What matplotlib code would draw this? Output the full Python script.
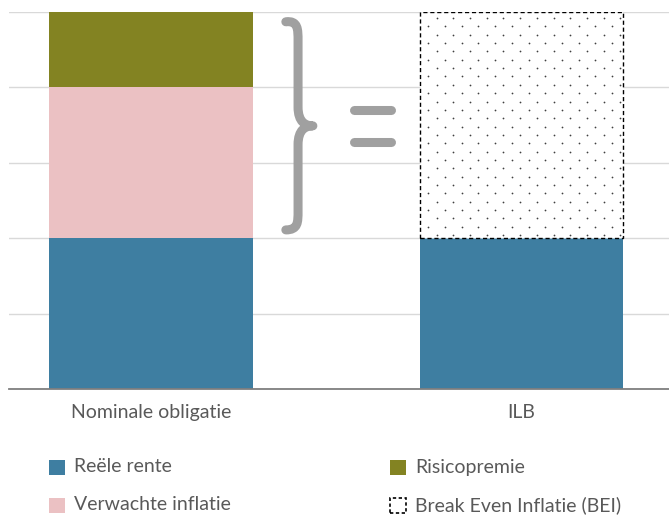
import numpy as np
import matplotlib.pyplot as plt
from matplotlib.path import Path
from matplotlib.patches import PathPatch, Rectangle
from matplotlib.transforms import IdentityTransform

plt.rcParams['font.family'] = ['Lato', 'DejaVu Sans']

# data
categories = ["Nominale obligatie", "ILB"]
reele_rente = [2, 2]
verwachte_inflatie = [2, 0]
risicopremie = [1, 0]
bei = [0, 3]

BLUE = "#3E7EA1"
PINK = "#EBC1C3"
OLIVE = "#838322"
GREY_TXT = "#595959"
BRACE = "#A0A0A0"
FS = 14

fig = plt.figure(figsize=(6.69, 5.15), dpi=100)
ax = fig.add_axes([9 / 669, 126 / 515, 660 / 669, 377 / 515])

x = list(range(len(categories)))
w = 0.55

ax.bar(x, reele_rente, width=w, color=BLUE, zorder=3)
bottom = reele_rente
ax.bar(x, verwachte_inflatie, width=w, bottom=bottom, color=PINK, zorder=3)
bottom = [a + b for a, b in zip(bottom, verwachte_inflatie)]
ax.bar(x, risicopremie, width=w, bottom=bottom, color=OLIVE, zorder=3)
bottom = [a + b for a, b in zip(bottom, risicopremie)]

ax.set_xlim(-0.383, 1.398)
ax.set_ylim(0, 5)

# break even inflation: dashed box with a dot fill on top of the real rate
bei_idx = [i for i, v in enumerate(bei) if v > 0]
bei_bars = ax.bar([x[i] for i in bei_idx], [bei[i] for i in bei_idx], width=w,
                  bottom=[reele_rente[i] for i in bei_idx],
                  facecolor="white", edgecolor="black",
                  linestyle=(0, (3, 2)), linewidth=1.0, zorder=4)
for rect in bei_bars:
    (x0, y0), (x1, y1) = ax.transData.transform(
        [(rect.get_x(), rect.get_y()),
         (rect.get_x() + rect.get_width(), rect.get_y() + rect.get_height())])
    dx, dy = 16.7, 8.35
    px, py = [], []
    for k, yy in enumerate(np.arange(y1 - 6, y0 + 3, -dy)):
        start = x0 + (17 if k % 2 == 0 else 8.7)
        xs = np.arange(start, x1 - 3, dx)
        px.extend(xs)
        py.extend([yy] * len(xs))
    ax.scatter(px, py, s=1.6, color="#404040", linewidths=0,
               transform=IdentityTransform(), zorder=4.5)

ax.set_yticks(range(0, 6))
ax.yaxis.grid(True, color="#D9D9D9", linewidth=1, zorder=0)
ax.tick_params(axis="y", length=0, labelleft=False)
ax.set_xticks(x, categories)
ax.tick_params(axis="x", length=0, pad=11, labelsize=FS, labelcolor=GREY_TXT)
for s in ["top", "right", "left"]:
    ax.spines[s].set_visible(False)
ax.spines["bottom"].set_color("#7F7F7F")
ax.spines["bottom"].set_linewidth(1.3)
ax.spines["bottom"].set_zorder(5)

# curly brace spanning inflation + risk premium
lo = reele_rente[0] + 0.11
hi = bottom[0] - 0.13
mid = (lo + hi) / 2
xt, xs, xp = 0.364, 0.397, 0.437
verts = [
    (xt, hi),
    (xs, hi + 0.02), (xs, hi - 0.1), (xs, hi - 0.25),
    (xs, mid + 0.25),
    (xs, mid + 0.05), (xs + 0.02, mid), (xp, mid),
    (xs + 0.02, mid), (xs, mid - 0.05), (xs, mid - 0.25),
    (xs, lo + 0.25),
    (xs, lo + 0.1), (xs, lo), (xt, lo),
]
codes = [Path.MOVETO,
         Path.CURVE4, Path.CURVE4, Path.CURVE4,
         Path.LINETO,
         Path.CURVE4, Path.CURVE4, Path.CURVE4,
         Path.CURVE4, Path.CURVE4, Path.CURVE4,
         Path.LINETO,
         Path.CURVE4, Path.CURVE4, Path.CURVE4]
ax.add_patch(PathPatch(Path(verts, codes), fill=False, edgecolor=BRACE,
                       linewidth=6.5, capstyle="round", joinstyle="round",
                       zorder=5))

# equals sign
for yy in (mid + 0.21, mid - 0.21):
    ax.plot([0.548, 0.648], [yy, yy], color=BRACE, linewidth=6.5,
            solid_capstyle="round", zorder=5)

# legend
entries = [
    ("Reële rente", dict(facecolor=BLUE, edgecolor="none")),
    ("Verwachte inflatie", dict(facecolor=PINK, edgecolor="none")),
    ("Risicopremie", dict(facecolor=OLIVE, edgecolor="none")),
    ("Break Even Inflatie (BEI)", dict(facecolor="white", edgecolor="black",
                                       linestyle=(0, (2, 1.5)), linewidth=1.2)),
]
col_x = [49, 390]
row_y = [467, 505]
for i, (label, style) in enumerate(entries):
    cx = col_x[i // 2]
    cy = row_y[i % 2]
    fig.patches.append(Rectangle((cx / 669, 1 - (cy + 8) / 515), 16 / 669, 15 / 515,
                                 transform=fig.transFigure, **style))
    fig.text((cx + 25) / 669, 1 - cy / 515, label, fontsize=FS,
             color=GREY_TXT, va="center", ha="left")

fig.savefig("out.png", dpi=100)
